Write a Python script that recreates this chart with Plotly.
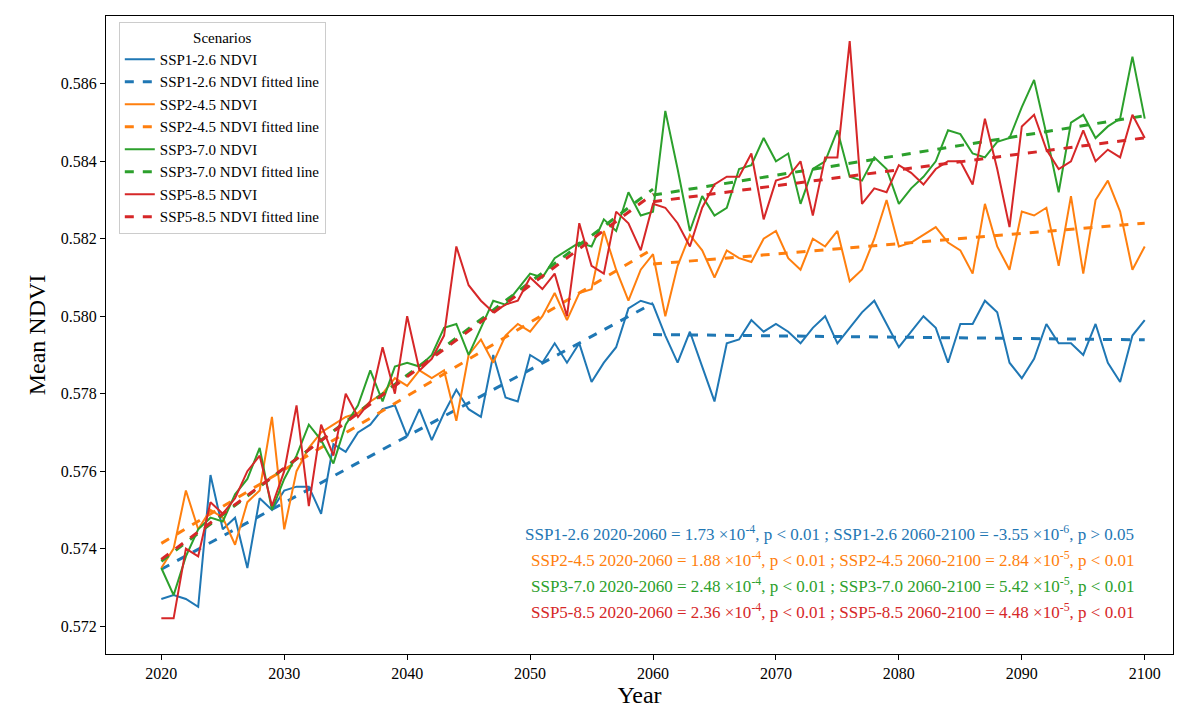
#!/usr/bin/env python3
"""Mean NDVI under SSP scenarios with piecewise linear trends"""

import numpy as np
import plotly.graph_objects as go

# Mean NDVI per year, 2020-2100
years = np.arange(2020, 2101)
ndvi = {
    'SSP1-2.6': [0.5727, 0.5728, 0.5727, 0.5725, 0.5759, 0.5745, 0.5748, 0.5735, 0.5753, 0.5750,
                 0.5755, 0.5756, 0.5756, 0.5749, 0.5767, 0.5765, 0.5770, 0.5772, 0.5776, 0.5777,
                 0.5769, 0.5776, 0.5768, 0.5775, 0.5781, 0.5776, 0.5774, 0.5790, 0.5779, 0.5778,
                 0.5790, 0.5788, 0.5793, 0.5788, 0.5793, 0.5783, 0.5788, 0.5792, 0.5802, 0.5804,
                 0.5803, 0.5795, 0.5788, 0.5796, 0.5787, 0.5778, 0.5793, 0.5794, 0.5799, 0.5796,
                 0.5798, 0.5796, 0.5793, 0.5797, 0.5800, 0.5793, 0.5797, 0.5801, 0.5804, 0.5798,
                 0.5792, 0.5796, 0.5800, 0.5797, 0.5788, 0.5798, 0.5798, 0.5804, 0.5801, 0.5788,
                 0.5784, 0.5789, 0.5798, 0.5793, 0.5793, 0.5790, 0.5798, 0.5788, 0.5783, 0.5795,
                 0.5799],
    'SSP2-4.5': [0.5735, 0.5740, 0.5755, 0.5745, 0.5750, 0.5748, 0.5741, 0.5752, 0.5755, 0.5774,
                 0.5745, 0.5760, 0.5766, 0.5770, 0.5772, 0.5774, 0.5775, 0.5778, 0.5780, 0.5784,
                 0.5782, 0.5786, 0.5784, 0.5786, 0.5773, 0.5790, 0.5794, 0.5788, 0.5795, 0.5798,
                 0.5796, 0.5800, 0.5806, 0.5799, 0.5806, 0.5807, 0.5822, 0.5812, 0.5804, 0.5812,
                 0.5816, 0.5800, 0.5813, 0.5821, 0.5817, 0.5810, 0.5817, 0.5815, 0.5814, 0.5820,
                 0.5822, 0.5815, 0.5812, 0.5820, 0.5818, 0.5822, 0.5809, 0.5812, 0.5820, 0.5830,
                 0.5818, 0.5819, 0.5821, 0.5823, 0.5819, 0.5817, 0.5811, 0.5829, 0.5818, 0.5812,
                 0.5827, 0.5826, 0.5828, 0.5813, 0.5831, 0.5811, 0.5830, 0.5835, 0.5827, 0.5812,
                 0.5818],
    'SSP3-7.0': [0.5735, 0.5728, 0.5738, 0.5745, 0.5748, 0.5747, 0.5754, 0.5758, 0.5766, 0.5750,
                 0.5758, 0.5764, 0.5772, 0.5768, 0.5762, 0.5772, 0.5777, 0.5786, 0.5778, 0.5787,
                 0.5788, 0.5787, 0.5790, 0.5797, 0.5798, 0.5790, 0.5797, 0.5804, 0.5803, 0.5807,
                 0.5811, 0.5810, 0.5815, 0.5817, 0.5819, 0.5818, 0.5825, 0.5822, 0.5832, 0.5826,
                 0.5827, 0.5853, 0.5838, 0.5822, 0.5831, 0.5826, 0.5828, 0.5838, 0.5839, 0.5846,
                 0.5840, 0.5842, 0.5829, 0.5838, 0.5840, 0.5848, 0.5836, 0.5835, 0.5841, 0.5838,
                 0.5829, 0.5833, 0.5836, 0.5840, 0.5848, 0.5847, 0.5842, 0.5841, 0.5845, 0.5846,
                 0.5854, 0.5861, 0.5847, 0.5832, 0.5850, 0.5852, 0.5846, 0.5849, 0.5851, 0.5867,
                 0.5851],
    'SSP5-8.5': [0.5722, 0.5722, 0.5740, 0.5738, 0.5752, 0.5749, 0.5753, 0.5760, 0.5764, 0.5751,
                 0.5760, 0.5777, 0.5751, 0.5772, 0.5764, 0.5780, 0.5774, 0.5778, 0.5792, 0.5780,
                 0.5800, 0.5786, 0.5789, 0.5795, 0.5818, 0.5808, 0.5804, 0.5801, 0.5803, 0.5804,
                 0.5810, 0.5807, 0.5811, 0.5800, 0.5824, 0.5813, 0.5811, 0.5827, 0.5824, 0.5817,
                 0.5829, 0.5828, 0.5824, 0.5818, 0.5828, 0.5834, 0.5836, 0.5836, 0.5842, 0.5825,
                 0.5835, 0.5836, 0.5840, 0.5826, 0.5841, 0.5841, 0.5871, 0.5829, 0.5833, 0.5832,
                 0.5839, 0.5837, 0.5834, 0.5838, 0.5840, 0.5840, 0.5834, 0.5851, 0.5838, 0.5823,
                 0.5849, 0.5852, 0.5843, 0.5838, 0.5840, 0.5848, 0.5840, 0.5843, 0.5841, 0.5852,
                 0.5846],
}
colors = {'SSP1-2.6': '#1f77b4', 'SSP2-4.5': '#ff7f0e', 'SSP3-7.0': '#2ca02c', 'SSP5-8.5': '#d62728'}

# Slope labels as printed on the chart
notes = {
    'SSP1-2.6': ('1.73', '-4', '-3.55', '-6', 'p > 0.05'),
    'SSP2-4.5': ('1.88', '-4', '2.84', '-5', 'p < 0.01'),
    'SSP3-7.0': ('2.48', '-4', '5.42', '-5', 'p < 0.01'),
    'SSP5-8.5': ('2.36', '-4', '4.48', '-5', 'p < 0.01'),
}

fig = go.Figure()

for name, vals in ndvi.items():
    vals = np.array(vals)
    c = colors[name]
    fig.add_trace(go.Scatter(x=years, y=vals, mode='lines', name=f'{name} NDVI',
                             line=dict(color=c, width=2)))
    # Fitted lines for the two periods
    for k, (a, b) in enumerate([(2020, 2060), (2060, 2100)]):
        m = (years >= a) & (years <= b)
        coef = np.polyfit(years[m], vals[m], 1)
        fig.add_trace(go.Scatter(x=years[m], y=np.polyval(coef, years[m]), mode='lines',
                                 name=f'{name} NDVI fitted line', showlegend=(k == 0),
                                 line=dict(color=c, width=3, dash='dash')))

# Trend annotations
for i, (name, (s1, e1, s2, e2, p2)) in enumerate(notes.items()):
    fig.add_annotation(
        x=0.965, y=0.19 - i * 0.041, xref='paper', yref='paper', xanchor='right', yanchor='middle',
        showarrow=False,
        text=(f'{name} 2020-2060 = {s1} ×10<sup>{e1}</sup>, p < 0.01 ; '
              f'{name} 2060-2100 = {s2} ×10<sup>{e2}</sup>, {p2}'),
        font=dict(size=17, color=colors[name]))

axis = dict(showline=True, linecolor='black', linewidth=1, mirror=True, ticks='outside',
            tickcolor='black', showgrid=False, zeroline=False, tickfont=dict(size=16))

fig.update_layout(
    width=1200, height=709,
    template='plotly_white',
    font=dict(family='Liberation Serif', color='black'),
    margin=dict(l=98, r=35, t=8, b=63),
    xaxis=dict(axis, range=[2015.5, 2102.3], tickvals=list(range(2020, 2101, 10)),
               title=dict(text='Year', font=dict(size=24), standoff=4)),
    yaxis=dict(axis, range=[0.57128, 0.58775], tickvals=[0.572, 0.574, 0.576, 0.578, 0.580, 0.582, 0.584, 0.586],
               tickformat='.3f', title=dict(text='Mean NDVI', font=dict(size=24), standoff=8)),
    legend=dict(title=dict(text='Scenarios', side='top center', font=dict(size=15)),
                x=0.012, y=0.99, xanchor='left', yanchor='top', font=dict(size=15),
                bgcolor='white', bordercolor='#cccccc', borderwidth=1, tracegroupgap=0),
)

fig.write_html('out.html')
